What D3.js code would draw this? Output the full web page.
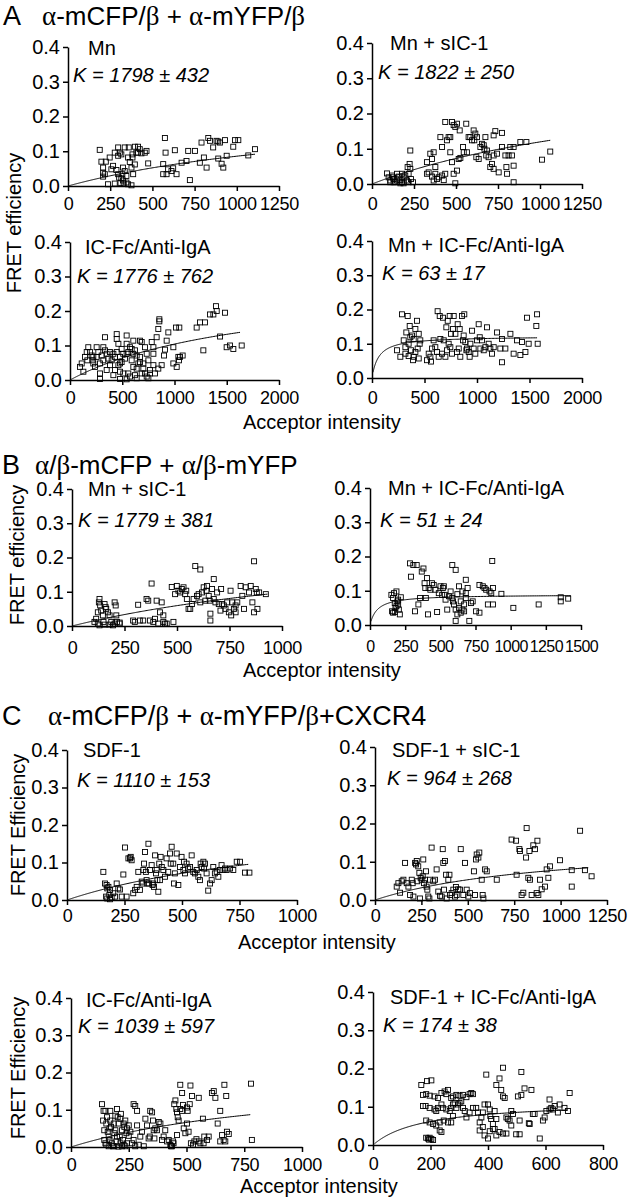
<!DOCTYPE html>
<html><head><meta charset="utf-8">
<script src="https://cdn.jsdelivr.net/npm/d3@7/dist/d3.min.js"></script>
<style>
body{margin:0;background:#fff;}
svg text{font-family:"Liberation Sans",Arial,sans-serif;fill:#000;}
</style></head><body>
<svg id="fig" width="637" height="1199"></svg>
<script>
// ---------------- DATA ----------------
const yTickValues = [0, 0.1, 0.2, 0.3, 0.4];
const xTicks1250 = [0, 250, 500, 750, 1000, 1250];
const xTicks2000 = [0, 500, 1000, 1500, 2000];
const xTicks1000 = [0, 250, 500, 750, 1000];
const xTicks1500 = [0, 250, 500, 750, 1000, 1250, 1500];
const xTicks800 = [0, 200, 400, 600, 800];

const sectionLetters = ["A", "B", "C"];
const sectionTitles = ["α-mCFP/β + α-mYFP/β", "α/β-mCFP + α/β-mYFP", "α-mCFP/β + α-mYFP/β+CXCR4"];

const panelNames = ["Mn", "Mn + sIC-1", "IC-Fc/Anti-IgA", "Mn + IC-Fc/Anti-IgA",
  "Mn + sIC-1", "Mn + IC-Fc/Anti-IgA",
  "SDF-1", "SDF-1 + sIC-1", "IC-Fc/Anti-IgA", "SDF-1 + IC-Fc/Anti-IgA"];
const fitK = [1798, 1822, 1776, 63, 1779, 51, 1110, 964, 1039, 174];
const fitKErr = [432, 250, 762, 17, 381, 24, 153, 268, 597, 38];
const fitEmax = [0.24, 0.337, 0.289, 0.122, 0.271, 0.0887, 0.229, 0.155, 0.203, 0.115];
const fitXStart = [0, 0, 0, 10, 0, 7, 0, 0, 0, 5];
const fitXEnd = [1108, 1061, 1627, 1572, 931, 1428, 788, 1149, 776, 678];

const ptsA1 = [[188,0.104],[198,0.070],[224,0.070],[208,0.053],[208,0.038],[218,0.034],[208,0.027],[247,0.082],[257,0.048],[267,0.058],[277,0.096],[297,0.087],[287,0.046],[297,0.034],[303,0.024],[316,0.022],[326,0.016],[311,0.009],[330,0.007],[277,0.007],[237,0.005],[346,0.010],[356,0.005],[376,0.002],[336,0.111],[356,0.082],[366,0.069],[376,0.053],[382,0.091],[396,0.062],[386,0.034],[405,0.096],[297,0.111],[307,0.096],[316,0.091],[336,0.043],[346,0.029],[322,0.034],[382,0.082],[396,0.113],[415,0.113],[425,0.106],[415,0.096],[435,0.094],[455,0.096],[465,0.101],[360,0.111],[326,0.053],[475,0.065],[574,0.138],[578,0.096],[564,0.063],[584,0.034],[593,0.048],[623,0.051],[633,0.103],[643,0.034],[673,0.067],[712,0.101],[722,0.017],[752,0.101],[791,0.125],[805,0.082],[831,0.138],[841,0.130],[860,0.111],[880,0.130],[890,0.128],[900,0.125],[920,0.053],[930,0.132],[940,0.087],[979,0.113],[989,0.132],[1009,0.132],[1068,0.088],[1108,0.106],[564,0.034],[613,0.043],[702,0.072],[781,0.067],[821,0.053],[890,0.079],[910,0.064]];

const ptsA2 = [[89,0.030],[99,0.019],[109,0.010],[119,0.024],[129,0.014],[139,0.005],[149,0.029],[159,0.021],[169,0.011],[179,0.005],[188,0.019],[198,0.024],[208,0.010],[218,0.029],[218,0.005],[228,0.095],[224,0.057],[228,0.043],[232,0.014],[244,0.005],[109,0.005],[129,0.005],[169,0.002],[188,0.002],[149,0.010],[212,0.048],[179,0.029],[125,0.019],[327,0.062],[347,0.086],[357,0.071],[327,0.029],[337,0.033],[357,0.021],[367,0.010],[377,0.029],[387,0.014],[397,0.019],[417,0.024],[427,0.011],[436,0.029],[367,0.090],[377,0.048],[407,0.133],[417,0.105],[436,0.176],[446,0.124],[456,0.133],[466,0.133],[476,0.176],[486,0.167],[496,0.162],[506,0.171],[522,0.152],[466,0.090],[476,0.062],[486,0.029],[496,0.002],[506,0.038],[516,0.071],[526,0.074],[542,0.105],[546,0.090],[561,0.171],[565,0.090],[575,0.133],[585,0.133],[595,0.124],[605,0.152],[609,0.124],[615,0.143],[621,0.076],[625,0.133],[635,0.071],[645,0.105],[655,0.114],[665,0.110],[669,0.100],[675,0.133],[680,0.081],[684,0.095],[694,0.076],[704,0.048],[714,0.057],[724,0.043],[724,0.081],[734,0.150],[724,0.138],[744,0.086],[754,0.033],[774,0.145],[774,0.105],[794,0.081],[800,0.048],[804,0.029],[813,0.081],[823,0.105],[833,0.081],[843,0.052],[843,0.005],[843,0.105],[883,0.119],[919,0.119],[1012,0.069],[1061,0.092]];

const ptsA3 = [[128,0.024],[175,0.095],[191,0.081],[207,0.071],[217,0.057],[223,0.048],[239,0.038],[255,0.067],[255,0.095],[271,0.081],[287,0.048],[287,0.019],[303,0.071],[319,0.057],[335,0.086],[335,0.124],[351,0.076],[367,0.062],[383,0.043],[399,0.057],[415,0.076],[431,0.067],[431,0.029],[447,0.081],[447,0.133],[463,0.043],[479,0.067],[494,0.052],[510,0.076],[526,0.062],[542,0.105],[542,0.129],[558,0.081],[574,0.095],[590,0.057],[606,0.114],[606,0.038],[622,0.086],[638,0.071],[654,0.048],[670,0.067],[670,0.114],[686,0.110],[702,0.033],[718,0.095],[734,0.076],[750,0.057],[766,0.019],[558,0.019],[574,0.010],[622,0.014],[638,0.005],[415,0.014],[351,0.029],[479,0.024],[510,0.019],[542,0.002],[287,0.003],[479,0.003],[160,0.081],[144,0.067],[96,0.038],[112,0.048],[166,0.057],[223,0.067],[319,0.095],[383,0.081],[463,0.105],[494,0.090],[447,0.119],[542,0.076],[590,0.090],[638,0.033],[670,0.052],[718,0.019],[734,0.010],[750,0.005],[766,0.029],[686,0.019],[702,0.048],[606,0.076],[479,0.048],[782,0.110],[798,0.043],[813,0.019],[845,0.033],[877,0.043],[900,0.071],[909,0.088],[925,0.114],[845,0.148],[855,0.176],[855,0.170],[829,0.124],[798,0.076],[941,0.138],[989,0.048],[989,0.095],[1021,0.038],[1037,0.067],[1043,0.057],[1046,0.152],[1078,0.071],[1053,0.067],[1014,0.152],[1244,0.167],[1276,0.086],[1292,0.167],[1340,0.190],[1372,0.190],[1397,0.214],[1404,0.200],[1436,0.126],[1499,0.095],[1531,0.100],[1563,0.090],[1643,0.100],[1483,0.195],[1212,0.152],[798,0.095]];

const ptsA4 = [[238,0.081],[270,0.062],[286,0.186],[302,0.110],[318,0.090],[327,0.133],[340,0.181],[349,0.100],[359,0.152],[365,0.119],[371,0.081],[381,0.124],[391,0.052],[397,0.114],[413,0.076],[429,0.167],[435,0.086],[445,0.129],[454,0.100],[460,0.110],[445,0.057],[397,0.062],[349,0.064],[318,0.071],[413,0.143],[524,0.052],[540,0.071],[556,0.062],[562,0.048],[572,0.086],[587,0.110],[603,0.090],[619,0.076],[625,0.195],[635,0.062],[645,0.181],[651,0.114],[667,0.071],[676,0.176],[683,0.110],[699,0.062],[708,0.148],[714,0.081],[721,0.167],[730,0.100],[740,0.181],[746,0.090],[752,0.129],[762,0.071],[772,0.143],[778,0.181],[794,0.129],[810,0.076],[816,0.157],[826,0.086],[835,0.143],[841,0.062],[857,0.181],[867,0.110],[873,0.124],[879,0.186],[889,0.105],[899,0.081],[905,0.086],[921,0.076],[930,0.062],[937,0.100],[953,0.138],[968,0.086],[984,0.071],[1000,0.110],[1016,0.157],[1026,0.119],[1032,0.086],[1048,0.110],[1064,0.081],[1080,0.090],[1095,0.148],[1111,0.100],[1127,0.086],[1143,0.071],[1159,0.090],[1191,0.133],[1222,0.086],[1238,0.114],[1238,0.046],[1270,0.086],[1318,0.129],[1349,0.071],[1381,0.110],[1413,0.067],[1429,0.105],[1461,0.076],[1476,0.176],[1492,0.100],[1572,0.186],[1578,0.100],[1565,0.152]];

const ptsB1 = [[107,0.012],[115,0.021],[123,0.040],[128,0.069],[131,0.079],[134,0.060],[139,0.045],[147,0.031],[150,0.012],[155,0.064],[160,0.055],[163,0.050],[171,0.040],[179,0.031],[187,0.012],[195,0.002],[203,0.069],[208,0.060],[211,0.031],[214,0.012],[227,0.007],[123,0.007],[131,0.002],[155,0.004],[179,0.004],[203,0.007],[227,0.010],[291,0.016],[299,0.012],[315,0.062],[323,0.016],[339,0.016],[355,0.079],[363,0.074],[371,0.016],[379,0.124],[387,0.012],[395,0.021],[403,0.074],[411,0.007],[419,0.040],[427,0.069],[435,0.031],[443,0.007],[451,0.007],[435,0.012],[475,0.114],[483,0.012],[491,0.093],[499,0.117],[507,0.103],[515,0.098],[523,0.108],[531,0.113],[539,0.093],[544,0.103],[547,0.079],[555,0.050],[563,0.050],[571,0.064],[579,0.079],[587,0.175],[595,0.088],[603,0.093],[611,0.165],[611,0.069],[619,0.098],[627,0.113],[635,0.074],[640,0.103],[643,0.117],[651,0.088],[656,0.074],[659,0.036],[659,0.016],[667,0.108],[675,0.137],[675,0.079],[683,0.069],[691,0.098],[699,0.064],[707,0.045],[710,0.108],[715,0.064],[723,0.060],[731,0.050],[739,0.069],[747,0.040],[755,0.103],[758,0.031],[763,0.069],[771,0.050],[779,0.060],[787,0.069],[803,0.117],[811,0.088],[827,0.113],[843,0.098],[851,0.117],[859,0.069],[867,0.040],[867,0.189],[875,0.108],[880,0.098],[891,0.098],[923,0.093],[883,0.050],[819,0.050],[779,0.040]];

const ptsB2 = [[152,0.088],[157,0.040],[164,0.079],[171,0.093],[176,0.064],[181,0.050],[188,0.098],[195,0.069],[200,0.060],[205,0.045],[212,0.031],[164,0.036],[176,0.038],[200,0.074],[219,0.081],[188,0.055],[284,0.180],[291,0.141],[308,0.175],[320,0.040],[332,0.175],[344,0.060],[356,0.079],[368,0.156],[380,0.165],[388,0.122],[393,0.108],[397,0.079],[405,0.137],[412,0.031],[417,0.108],[429,0.103],[441,0.122],[453,0.117],[465,0.103],[477,0.038],[489,0.093],[501,0.113],[513,0.088],[518,0.108],[525,0.113],[532,0.088],[537,0.074],[549,0.045],[561,0.084],[573,0.098],[585,0.079],[590,0.069],[597,0.060],[609,0.045],[621,0.090],[633,0.113],[645,0.069],[657,0.098],[669,0.060],[681,0.093],[585,0.175],[609,0.161],[609,0.012],[621,0.031],[633,0.050],[645,0.036],[657,0.045],[669,0.040],[681,0.079],[694,0.108],[706,0.012],[681,0.132],[718,0.064],[730,0.069],[754,0.040],[778,0.036],[778,0.117],[802,0.113],[814,0.108],[826,0.103],[838,0.060],[850,0.098],[862,0.093],[874,0.108],[869,0.187],[874,0.060],[934,0.091],[1019,0.050],[1199,0.060],[1356,0.069],[1356,0.081],[1409,0.077]];

const ptsC1 = [[158,0.075],[165,0.044],[172,0.040],[175,0.031],[180,0.035],[187,0.027],[170,0.009],[175,0.004],[184,0.013],[187,0.002],[194,0.007],[201,0.018],[209,0.009],[216,0.044],[223,0.031],[230,0.028],[238,0.009],[245,0.068],[252,0.140],[259,0.009],[267,0.111],[274,0.111],[277,0.115],[281,0.106],[288,0.018],[296,0.027],[303,0.035],[310,0.075],[317,0.027],[325,0.049],[329,0.044],[332,0.080],[335,0.097],[339,0.128],[343,0.075],[346,0.053],[349,0.044],[354,0.150],[356,0.044],[361,0.080],[368,0.093],[372,0.040],[375,0.044],[378,0.035],[383,0.119],[387,0.071],[390,0.080],[393,0.053],[397,0.022],[401,0.097],[404,0.053],[407,0.115],[412,0.088],[419,0.080],[426,0.062],[433,0.111],[440,0.075],[448,0.124],[451,0.097],[455,0.142],[462,0.097],[465,0.044],[469,0.071],[477,0.124],[484,0.040],[491,0.088],[498,0.115],[506,0.080],[509,0.102],[513,0.071],[520,0.097],[527,0.084],[535,0.088],[542,0.119],[549,0.075],[556,0.071],[564,0.080],[571,0.062],[578,0.053],[581,0.097],[585,0.088],[593,0.102],[596,0.084],[600,0.097],[607,0.071],[614,0.025],[622,0.044],[629,0.053],[636,0.088],[643,0.071],[651,0.075],[658,0.062],[665,0.080],[672,0.093],[680,0.080],[687,0.084],[694,0.080],[709,0.084],[723,0.080],[738,0.102],[752,0.102],[774,0.073],[793,0.073]];

const ptsC2 = [[117,0.035],[126,0.044],[135,0.019],[144,0.049],[153,0.053],[162,0.097],[171,0.044],[180,0.035],[189,0.013],[198,0.053],[203,0.044],[207,0.009],[216,0.097],[221,0.093],[225,0.102],[228,0.049],[233,0.088],[239,0.071],[242,0.004],[246,0.058],[251,0.053],[257,0.062],[260,0.106],[264,0.044],[269,0.053],[275,0.075],[278,0.035],[282,0.027],[287,0.009],[293,0.004],[296,0.053],[305,0.137],[314,0.049],[323,0.053],[332,0.080],[341,0.022],[350,0.011],[359,0.009],[365,0.133],[368,0.097],[372,0.027],[377,0.102],[383,0.066],[386,0.004],[395,0.053],[401,0.066],[404,0.013],[413,0.018],[422,0.027],[431,0.009],[436,0.034],[440,0.013],[449,0.028],[458,0.027],[462,0.133],[476,0.013],[485,0.097],[494,0.027],[503,0.009],[512,0.018],[533,0.075],[539,0.013],[544,0.106],[548,0.119],[557,0.111],[562,0.124],[575,0.053],[580,0.013],[584,0.004],[593,0.080],[602,0.075],[656,0.053],[736,0.158],[760,0.155],[763,0.066],[778,0.133],[781,0.128],[790,0.013],[799,0.019],[814,0.111],[817,0.188],[826,0.058],[832,0.128],[835,0.053],[844,0.013],[853,0.143],[862,0.133],[871,0.018],[875,0.155],[880,0.013],[889,0.053],[898,0.028],[916,0.035],[925,0.080],[934,0.058],[943,0.088],[997,0.104],[1060,0.035],[1060,0.078],[1105,0.181],[1131,0.078],[1167,0.062]];

const ptsC3 = [[134,0.115],[141,0.097],[139,0.071],[144,0.045],[149,0.010],[153,0.063],[156,0.080],[159,0.041],[163,0.028],[167,0.019],[170,0.097],[173,0.054],[177,0.010],[182,0.002],[185,0.063],[188,0.037],[192,0.045],[196,0.015],[199,0.102],[202,0.080],[206,0.063],[211,0.028],[214,0.010],[216,0.089],[221,0.045],[225,0.019],[228,0.006],[231,0.054],[235,0.071],[240,0.037],[242,0.010],[153,0.006],[163,0.002],[185,0.002],[206,0.001],[221,0.002],[235,0.002],[149,0.097],[170,0.071],[192,0.084],[214,0.076],[144,0.019],[167,0.050],[199,0.028],[228,0.063],[250,0.058],[257,0.041],[264,0.010],[271,0.019],[278,0.002],[242,0.050],[250,0.030],[271,0.115],[278,0.110],[286,0.097],[286,0.058],[293,0.006],[300,0.028],[307,0.041],[315,0.002],[322,0.076],[329,0.058],[336,0.023],[341,0.028],[343,0.097],[351,0.093],[355,0.071],[358,0.045],[361,0.023],[365,0.050],[372,0.045],[380,0.067],[387,0.063],[394,0.019],[401,0.028],[408,0.045],[416,0.015],[423,0.019],[430,0.006],[437,0.002],[444,0.010],[433,0.002],[442,0.015],[447,0.115],[452,0.125],[456,0.102],[459,0.093],[462,0.080],[466,0.071],[459,0.032],[473,0.102],[481,0.097],[485,0.113],[488,0.050],[495,0.037],[502,0.063],[505,0.097],[509,0.041],[514,0.115],[519,0.010],[528,0.006],[534,0.015],[543,0.021],[553,0.015],[560,0.010],[574,0.010],[473,0.167],[481,0.145],[502,0.106],[517,0.165],[524,0.137],[553,0.132],[571,0.076],[577,0.028],[589,0.019],[596,0.028],[610,0.145],[618,0.150],[625,0.132],[635,0.063],[646,0.015],[661,0.019],[668,0.015],[675,0.041],[683,0.035],[646,0.097],[664,0.167],[672,0.137],[654,0.032],[779,0.170],[783,0.019]];

const ptsC4 = [[168,0.157],[188,0.167],[203,0.169],[174,0.131],[185,0.133],[197,0.129],[214,0.127],[226,0.123],[238,0.136],[249,0.140],[261,0.144],[255,0.133],[272,0.123],[278,0.127],[290,0.131],[301,0.129],[313,0.131],[325,0.125],[336,0.133],[342,0.136],[348,0.133],[174,0.102],[183,0.102],[197,0.097],[214,0.093],[220,0.089],[226,0.097],[238,0.106],[243,0.097],[255,0.093],[267,0.089],[272,0.097],[278,0.106],[284,0.110],[290,0.097],[296,0.106],[301,0.110],[307,0.114],[313,0.097],[319,0.089],[185,0.064],[197,0.059],[209,0.055],[232,0.059],[220,0.051],[238,0.034],[232,0.038],[246,0.064],[261,0.059],[272,0.059],[278,0.076],[185,0.019],[191,0.017],[197,0.019],[195,0.014],[203,0.016],[209,0.013],[325,0.072],[336,0.085],[348,0.097],[359,0.097],[365,0.085],[371,0.059],[377,0.072],[382,0.085],[388,0.106],[394,0.184],[400,0.106],[406,0.093],[408,0.076],[411,0.068],[417,0.055],[423,0.089],[429,0.068],[429,0.157],[440,0.174],[452,0.202],[446,0.144],[452,0.127],[458,0.123],[464,0.072],[469,0.068],[475,0.064],[481,0.089],[487,0.081],[371,0.038],[382,0.047],[388,0.025],[400,0.017],[406,0.036],[417,0.042],[423,0.042],[429,0.025],[440,0.034],[452,0.030],[464,0.030],[481,0.051],[498,0.028],[510,0.028],[516,0.191],[516,0.131],[504,0.127],[510,0.064],[527,0.148],[551,0.144],[556,0.081],[562,0.081],[580,0.017],[591,0.064],[597,0.072],[603,0.089],[614,0.093],[620,0.097],[626,0.093],[643,0.085],[649,0.106],[666,0.097],[684,0.136],[678,0.089],[614,0.119],[632,0.102],[545,0.055],[542,0.057]];

const panelPoints = [ptsA1, ptsA2, ptsA3, ptsA4, ptsB1, ptsB2, ptsC1, ptsC2, ptsC3, ptsC4];
const panelXTicks = [xTicks1250, xTicks1250, xTicks2000, xTicks2000, xTicks1000, xTicks1500, xTicks1000, xTicks1250, xTicks1000, xTicks800];

// ---------------- LAYOUT ----------------
const layout = [
  {l:68, r:279, b:186, t:47, pad:6.6, nx:88, ny:55, kx:73, ky:82},
  {l:372, r:582, b:184, t:43, pad:8.6, nx:390, ny:50, kx:378, ky:79},
  {l:70, r:279, b:380, t:242, pad:6.6, nx:85, ny:254, kx:77, ky:283},
  {l:372, r:582, b:378, t:241, pad:8.6, nx:388, ny:252, kx:382, ky:280},
  {l:72, r:282, b:626, t:489, pad:10.6, nx:88, ny:496, kx:78, ky:527},
  {l:370, r:581, b:625, t:488, pad:10.6, nx:388, ny:495, kx:380, ky:527, small:true},
  {l:67, r:297, b:900, t:750, pad:4.6, nx:83, ny:757, kx:77, ky:787},
  {l:375, r:607, b:900, t:747, pad:4.6, nx:392, ny:757, kx:387, ky:785},
  {l:71, r:302, b:1147, t:998, pad:6.0, nx:86, ny:1007, kx:78, ky:1033},
  {l:373, r:603, b:1145, t:992, pad:7.0, nx:390, ny:1004, kx:383, ky:1032}
];

const svg = d3.select("#fig");

function greekText(sel, str) {
  const parts = str.split(/([αβ])/);
  parts.forEach(p => {
    if (!p) return;
    const t = sel.append("tspan").text(p);
    if (p === "α" || p === "β") t.style("font-family", "'Liberation Serif','Times New Roman',serif").attr("font-size", "27px");
  });
}

// section headers
const secPos = [{lx:3, tx:42, y:25, fs:26}, {lx:2, tx:35, y:474, fs:26}, {lx:2, tx:48, y:725, fs:27}];
sectionLetters.forEach((s, i) => {
  svg.append("text").attr("x", secPos[i].lx).attr("y", secPos[i].y).attr("font-size", "27px").text(s);
  const t = svg.append("text").attr("x", secPos[i].tx).attr("y", secPos[i].y).attr("font-size", secPos[i].fs + "px");
  greekText(t, sectionTitles[i]);
});

// y titles
const yTitles = [{x:14, y:223, s:"FRET efficiency"}, {x:17, y:555, s:"FRET efficiency"},
                 {x:18, y:825, s:"FRET Efficiency"}, {x:18, y:1068, s:"FRET Efficiency"}];
yTitles.forEach(d => {
  svg.append("text").attr("transform", `translate(${d.x},${d.y}) rotate(-90)`)
    .attr("text-anchor", "middle").attr("dominant-baseline", "central")
    .attr("font-size", "20px").text(d.s);
});
// x titles
const xTitles = [{x:243, y:429}, {x:243, y:677}, {x:238, y:949}, {x:240, y:1193}];
xTitles.forEach(d => {
  svg.append("text").attr("x", d.x).attr("y", d.y).attr("font-size", "20px").text("Acceptor intensity");
});

// panels
panelPoints.forEach((pts, i) => {
  const L = layout[i];
  const ticks = panelXTicks[i];
  const x = d3.scaleLinear().domain([0, ticks[ticks.length - 1]]).range([L.l, L.r]);
  const y = d3.scaleLinear().domain([0, 0.4]).range([L.b, L.t]);
  const g = svg.append("g");

  const xa = g.append("g").attr("transform", `translate(0,${L.b})`)
    .call(d3.axisBottom(x).tickValues(ticks).tickSize(5).tickPadding(L.pad).tickSizeOuter(0).tickFormat(d3.format("d")));
  const ya = g.append("g").attr("transform", `translate(${L.l},0)`)
    .call(d3.axisLeft(y).tickValues(yTickValues).tickSize(5).tickPadding(3).tickSizeOuter(0).tickFormat(d3.format(".1f")));
  [xa, ya].forEach(a => {
    a.selectAll("path,line").attr("stroke", "#000").attr("stroke-width", 1.5);
    a.selectAll("text").attr("fill", "#000").style("font-family", "'Liberation Sans',Arial,sans-serif");
  });
  ya.selectAll("text").attr("font-size", "20px");
  xa.selectAll("text").attr("font-size", L.small ? "16px" : "18px")
    .attr("letter-spacing", L.small ? "-0.6px" : "-0.3px");

  // points
  g.append("g").selectAll("rect").data(pts).join("rect")
    .attr("x", d => x(d[0]) - 2.5).attr("y", d => y(d[1]) - 2.5)
    .attr("width", 5).attr("height", 5)
    .attr("fill", "none").attr("stroke", "#000").attr("stroke-width", 0.9);

  // hyperbolic fit E = Emax*A/(K+A)
  const K = fitK[i], Em = fitEmax[i];
  const n = 200;
  const xs = d3.range(n + 1).map(j => fitXStart[i] + (fitXEnd[i] - fitXStart[i]) * Math.pow(j / n, 2));
  const line = d3.line().x(a => x(a)).y(a => y(Em * a / (K + a)));
  g.append("path").datum(xs).attr("d", line).attr("fill", "none").attr("stroke", "#000").attr("stroke-width", 1);

  // labels
  g.append("text").attr("x", L.nx).attr("y", L.ny).attr("font-size", "20px").text(panelNames[i]);
  g.append("text").attr("x", L.kx).attr("y", L.ky).attr("font-size", "20px").attr("font-style", "italic")
    .text(`K = ${fitK[i]} ± ${fitKErr[i]}`);
});
</script>
</body></html>
